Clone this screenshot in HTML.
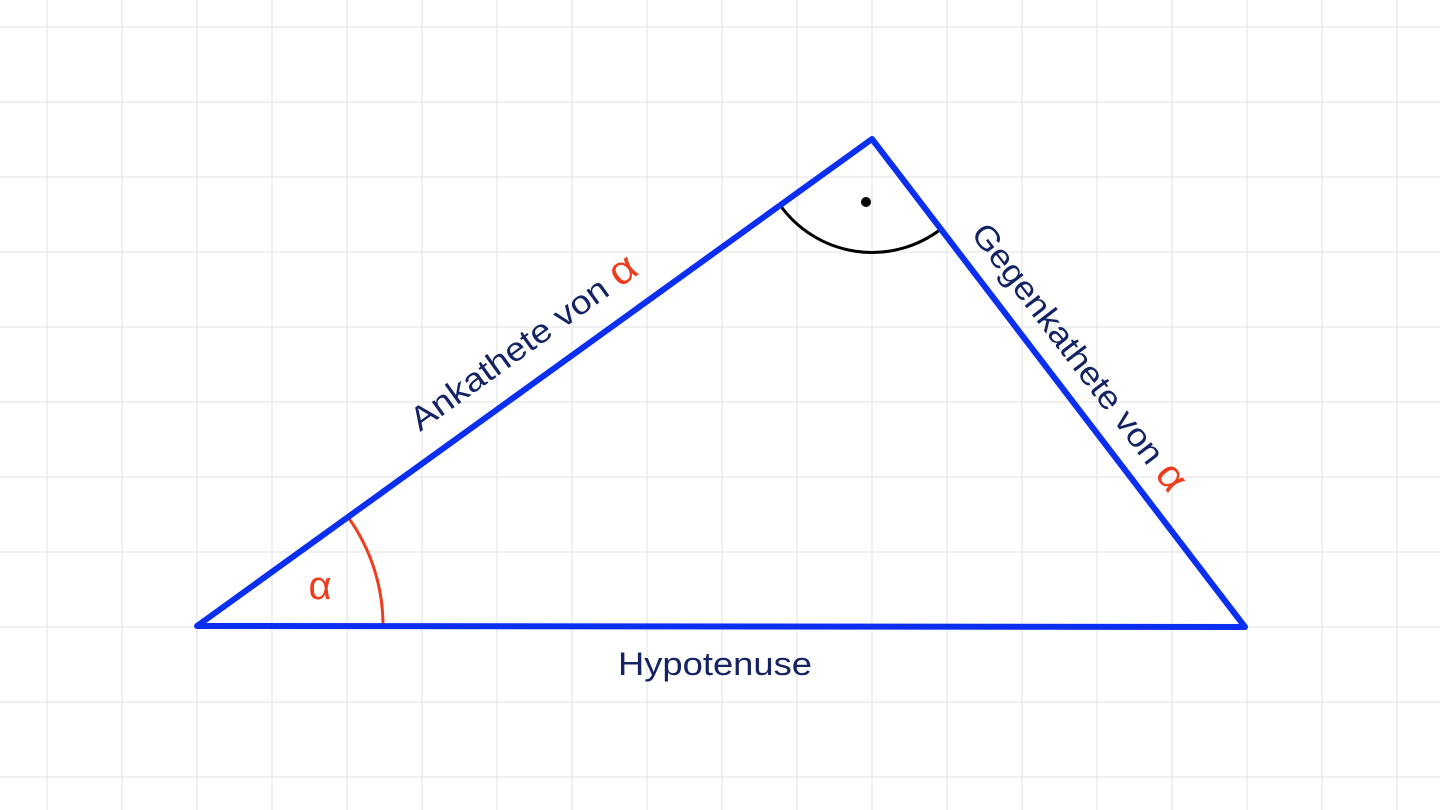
<!DOCTYPE html>
<html><head><meta charset="utf-8"><style>
html,body{margin:0;padding:0;background:#fff;}
svg{display:block;}
text{font-family:"Liberation Sans","DejaVu Sans",sans-serif;fill:#142363;}
</style></head><body>
<svg width="1440" height="810" viewBox="0 0 1440 810" xmlns="http://www.w3.org/2000/svg">
<g stroke="#e2e2e2" stroke-width="1">
<line x1="47" y1="0" x2="47" y2="810"/><line x1="122" y1="0" x2="122" y2="810"/><line x1="197" y1="0" x2="197" y2="810"/><line x1="272" y1="0" x2="272" y2="810"/><line x1="347" y1="0" x2="347" y2="810"/><line x1="422" y1="0" x2="422" y2="810"/><line x1="497" y1="0" x2="497" y2="810"/><line x1="572" y1="0" x2="572" y2="810"/><line x1="647" y1="0" x2="647" y2="810"/><line x1="722" y1="0" x2="722" y2="810"/><line x1="797" y1="0" x2="797" y2="810"/><line x1="872" y1="0" x2="872" y2="810"/><line x1="947" y1="0" x2="947" y2="810"/><line x1="1022" y1="0" x2="1022" y2="810"/><line x1="1097" y1="0" x2="1097" y2="810"/><line x1="1172" y1="0" x2="1172" y2="810"/><line x1="1247" y1="0" x2="1247" y2="810"/><line x1="1322" y1="0" x2="1322" y2="810"/><line x1="1397" y1="0" x2="1397" y2="810"/>
<line x1="0" y1="27" x2="1440" y2="27"/><line x1="0" y1="102" x2="1440" y2="102"/><line x1="0" y1="177" x2="1440" y2="177"/><line x1="0" y1="252" x2="1440" y2="252"/><line x1="0" y1="327" x2="1440" y2="327"/><line x1="0" y1="402" x2="1440" y2="402"/><line x1="0" y1="477" x2="1440" y2="477"/><line x1="0" y1="552" x2="1440" y2="552"/><line x1="0" y1="627" x2="1440" y2="627"/><line x1="0" y1="702" x2="1440" y2="702"/><line x1="0" y1="777" x2="1440" y2="777"/>
</g>
<path d="M780,205 A113,113 0 0 0 941,229" fill="none" stroke="#000" stroke-width="3"/>
<circle cx="866" cy="202" r="5" fill="#000"/>
<path d="M348,517 A186,186 0 0 1 383,626" fill="none" stroke="#ee3d1e" stroke-width="3"/>
<polygon points="197,626 872,139 1245,627" fill="none" stroke="#0a2ff0" stroke-width="6" stroke-linejoin="round"/>
<text x="320" y="599" font-size="40" text-anchor="middle" style="fill:#ee3d1e">α</text>
<text x="420" y="432" font-size="33" textLength="272" lengthAdjust="spacingAndGlyphs" transform="rotate(-35.8 420 432)">Ankathete von <tspan font-size="40" style="fill:#ee3d1e">α</tspan></text>
<text x="970" y="234" font-size="33" textLength="328" lengthAdjust="spacingAndGlyphs" transform="rotate(52.6 970 234)">Gegenkathete von <tspan font-size="40" style="fill:#ee3d1e">α</tspan></text>
<text x="715" y="675" font-size="32" text-anchor="middle" textLength="194" lengthAdjust="spacingAndGlyphs">Hypotenuse</text>
</svg>
</body></html>
